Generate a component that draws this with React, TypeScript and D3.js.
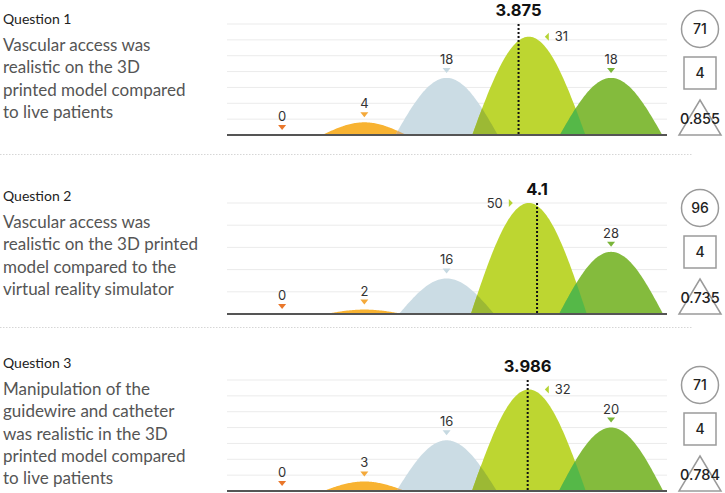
import React from "react";
import * as d3 from "d3";

// ---- data
const questionTitles = ["Question 1", "Question 2", "Question 3"];
const questionLines = [
  ["Vascular access was", "realistic on the 3D", "printed model compared", "to live patients"],
  ["Vascular access was", "realistic on the 3D printed", "model compared to the", "virtual reality simulator"],
  ["Manipulation of the", "guidewire and catheter", "was realistic in the 3D", "printed model compared", "to live patients"],
];
const ratings = [1, 2, 3, 4, 5];
const q1Counts = [0, 4, 18, 31, 18];
const q2Counts = [0, 2, 16, 50, 28];
const q3Counts = [0, 3, 16, 32, 20];
const counts = [q1Counts, q2Counts, q3Counts];
const means = [3.875, 4.1, 3.986];
const respondents = [71, 96, 71];
const medians = [4, 4, 4];
const alphas = ["0.855", "0.735", "0.784"];
const yMaxes = [35, 50, 35];
const gridSteps = [5, 10, 5];

// ---- styling
const shapeColors = ["#e9772b", "#f8b332", "#cbdce4", "#bdd631", "#84bb3d"];
const markerColors = ["#e9772b", "#f4a93a", "#c6d9e1", "#b5d334", "#7ab53a"];
const overlapColors = ["", "#d9ab6c", "#9cb934", "#55b848"];

const W = 725;
const H = 493;
const baselines = [135, 314, 491];
const titleY = [24, 201, 368];
const separators = [154.5, 327.5];
const plotH = 111;
const statX = 700;
const numFont = "Inter, 'Open Sans', sans-serif";
const textFont = "Lato, 'Open Sans', sans-serif";

const x = d3.scaleLinear().domain([0.33, 5.68]).range([227, 667]);

const Panel = ({ p }: { p: number }) => {
  const base = baselines[p];
  const y = d3.scaleLinear().domain([0, yMaxes[p]]).range([base, base - plotH]);
  const grid = d3.range(gridSteps[p], yMaxes[p] + 0.001, gridSteps[p]);
  const data = counts[p];
  const mean = means[p];
  const sideIdx = Math.round(mean) - 1;
  const side = mean > ratings[sideIdx] ? -1 : 1;

  // bell shaped hill per rating, height from the count
  const bump = (i: number) => {
    const cx = x(ratings[i]);
    const h = y(0) - y(data[i]);
    const w = 34 + 24 * Math.sqrt(h / plotH);
    const ts = d3.range(-1, 1.0001, 0.025);
    const area = d3
      .area<number>()
      .x(t => cx + t * w)
      .y0(y(0))
      .y1(t => y(0) - h * Math.cos((t * Math.PI) / 2));
    return area(ts) || "";
  };

  const shown = ratings.map((_, i) => i).filter(i => data[i] > 0);

  return (
    <g>
      {/* gridlines */}
      {grid.map(g => (
        <line key={g} x1={x.range()[0]} x2={x.range()[1]} y1={y(g)} y2={y(g)} stroke="#ebebeb" strokeWidth={1} />
      ))}
      <defs>
        {shown.map(i => (
          <clipPath key={i} id={`clip-${p}-${i}`}>
            <path d={bump(i)} />
          </clipPath>
        ))}
      </defs>
      {shown.map(i => (
        <path key={i} d={bump(i)} fill={shapeColors[i]} />
      ))}
      {/* overlap of neighbour shapes */}
      {shown
        .filter(i => data[i - 1] > 0)
        .map(i => (
          <path key={"o" + i} d={bump(i)} fill={overlapColors[i - 1]} clipPath={`url(#clip-${p}-${i - 1})`} />
        ))}
      <line x1={x.range()[0]} x2={x.range()[1]} y1={y(0)} y2={y(0)} stroke="#555" strokeWidth={2} />
      {/* mean */}
      <line
        x1={x(mean)}
        x2={x(mean)}
        y1={y(yMaxes[p])}
        y2={y(0)}
        stroke="#111"
        strokeWidth={2}
        strokeDasharray="2,2"
      />
      <text x={x(mean)} y={y(yMaxes[p]) - 8} textAnchor="middle" fontFamily={numFont} fontWeight={700} fontSize={16.5} fill="#111">
        {mean}
      </text>
      {/* value labels */}
      {ratings.map((r, i) => {
        const cx = x(r);
        const py = y(data[i]);
        if (i === sideIdx) {
          const tip = cx + side * 16;
          const b = cx + side * 20;
          return (
            <g key={r}>
              <path d={`M${tip},${py}L${b},${py - 4}L${b},${py + 4}Z`} fill={markerColors[i]} />
              <text
                x={cx + side * 26}
                y={py}
                dy="0.35em"
                textAnchor={side > 0 ? "start" : "end"}
                fontFamily={numFont}
                fontSize={13}
                fill="#333"
              >
                {data[i]}
              </text>
            </g>
          );
        }
        return (
          <g key={r}>
            <path d={`M${cx - 4},${py - 10}L${cx + 4},${py - 10}L${cx},${py - 5}Z`} fill={markerColors[i]} />
            <text x={cx} y={py - 14} textAnchor="middle" fontFamily={numFont} fontSize={13} fill="#333">
              {data[i]}
            </text>
          </g>
        );
      })}
      {/* stats on the right */}
      <circle cx={statX} cy={base - 106} r={18.5} fill="none" stroke="#9a9a9a" strokeWidth={1.5} />
      <text x={statX} y={base - 106} dy="0.36em" textAnchor="middle" fontFamily={numFont} fontWeight={500} fontSize={14} fill="#222">
        {respondents[p]}
      </text>
      <rect x={statX - 16} y={base - 78} width={32} height={32} fill="none" stroke="#9a9a9a" strokeWidth={1.5} />
      <text x={statX} y={base - 62} dy="0.36em" textAnchor="middle" fontFamily={numFont} fontWeight={500} fontSize={14} fill="#222">
        {medians[p]}
      </text>
      <path
        d={`M${statX},${base - 35}L${statX + 21},${base}L${statX - 21},${base}Z`}
        fill="none"
        stroke="#9a9a9a"
        strokeWidth={1.5}
      />
      <text x={statX} y={base - 16} dy="0.36em" textAnchor="middle" fontFamily={numFont} fontWeight={500} fontSize={14.5} fill="#222">
        {alphas[p]}
      </text>
      {/* question text */}
      <text x={3} y={titleY[p]} fontFamily={textFont} fontSize={14} fill="#222">
        {questionTitles[p]}
      </text>
      {questionLines[p].map((l, k) => (
        <text key={k} x={3} y={titleY[p] + 27 + k * 22.3} fontFamily={textFont} fontSize={17} fill="#555">
          {l}
        </text>
      ))}
    </g>
  );
};

export default function App() {
  return (
    <svg width={W} height={H} style={{ position: "absolute", left: 0, top: 0, background: "#fff" }}>
      {separators.map(s => (
        <line key={s} x1={0} x2={693} y1={s} y2={s} stroke="#d6d6d6" strokeWidth={1} strokeDasharray="1.5,1.5" />
      ))}
      {questionTitles.map((_, p) => (
        <Panel key={p} p={p} />
      ))}
    </svg>
  );
}
